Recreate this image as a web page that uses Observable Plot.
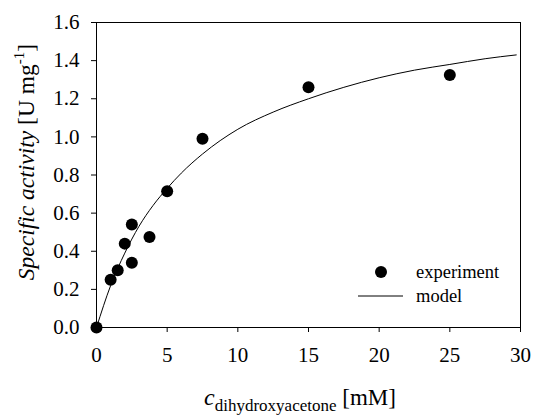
<!DOCTYPE html>
<html><head><meta charset="utf-8">
<script src="https://cdn.jsdelivr.net/npm/d3@7"></script>
<script src="https://cdn.jsdelivr.net/npm/@observablehq/plot@0.6"></script>
</head><body style="margin:0;background:#fff"><div id="chart"></div>
<script>
// experiment points
const expConc = [0, 1, 1.5, 2, 2.5, 2.5, 3.75, 5, 7.5, 15, 25];
const expActivity = [0, 0.25, 0.30, 0.44, 0.54, 0.34, 0.475, 0.715, 0.99, 1.26, 1.325];
// model curve
const modelConc = [0, 1, 2, 3, 4, 5, 6, 7.5, 10, 12.5, 15, 17.5, 20, 22.5, 25, 27.5, 29.7];
const modelActivity = [0, 0.22, 0.39, 0.53, 0.64, 0.73, 0.81, 0.91, 1.04, 1.13, 1.20, 1.26, 1.31, 1.35, 1.38, 1.41, 1.43];
const xTicks = [0, 5, 10, 15, 20, 25, 30];
const yTicks = [0, 0.2, 0.4, 0.6, 0.8, 1.0, 1.2, 1.4, 1.6];
const legendLabels = ["experiment", "model"];

const FONT = "'Liberation Serif', 'Times New Roman', Times, 'DejaVu Serif', serif";
const expData = expConc.map((c, i) => ({c, a: expActivity[i]}));
const modelData = modelConc.map((c, i) => ({c, a: modelActivity[i]}));

const plot = Plot.plot({
  width: 533, height: 415,
  marginLeft: 96, marginRight: 13, marginTop: 22, marginBottom: 88,
  style: {fontFamily: FONT, fontSize: "21px", color: "#000", background: "#fff"},
  x: {domain: [0, 30]},
  y: {domain: [0, 1.6]},
  marks: [
    Plot.frame({stroke: "#000", strokeWidth: 1}),
    Plot.axisX({ticks: xTicks, tickSize: 5, tickPadding: 15, label: null, fontSize: 21, fontFamily: FONT, tickFormat: d3.format("d")}),
    Plot.axisY({ticks: yTicks, tickSize: 5, tickPadding: 12, label: null, fontSize: 21, fontFamily: FONT, tickFormat: d3.format(".1f")}),
    Plot.line(modelData, {x: "c", y: "a", curve: "monotone-x", stroke: "#000", strokeWidth: 1}),
    Plot.dot(expData, {x: "c", y: "a", r: 6, fill: "#000", stroke: "none"})
  ]
});
document.getElementById("chart").appendChild(plot);

const svg = d3.select(plot);
// x title
const xt = svg.append("text").attr("x", 300).attr("y", 405).attr("text-anchor", "middle").attr("fill", "#000");
xt.append("tspan").attr("font-style", "italic").attr("font-size", 24).text("c");
xt.append("tspan").attr("font-size", 17).attr("dy", 6).text("dihydroxyacetone");
xt.append("tspan").attr("font-size", 23).attr("dy", -6).text(" [mM]");
// y title
const yt = svg.append("text").attr("transform", "translate(34,162) rotate(-90)").attr("text-anchor", "middle")
  .attr("fill", "#000").attr("font-size", 23.5);
yt.append("tspan").attr("font-style", "italic").text("Specific activity");
yt.append("tspan").text(" [U mg");
yt.append("tspan").attr("font-size", 15).attr("dy", -10).text("-1");
yt.append("tspan").attr("dy", 10).text("]");
// legend
const lg = svg.append("g").attr("font-size", 18.5).attr("fill", "#000").attr("text-anchor", "start");
lg.append("circle").attr("cx", 381).attr("cy", 272).attr("r", 6).attr("fill", "#000");
lg.append("line").attr("x1", 358).attr("x2", 403).attr("y1", 296).attr("y2", 296).attr("stroke", "#000").attr("stroke-width", 1);
lg.append("text").attr("x", 416).attr("y", 272).attr("dy", "0.33em").text(legendLabels[0]);
lg.append("text").attr("x", 416).attr("y", 296).attr("dy", "0.33em").text(legendLabels[1]);

// serif everywhere
svg.attr("font-family", FONT);
svg.selectAll("g, text, tspan").attr("font-family", FONT);
</script></body></html>
